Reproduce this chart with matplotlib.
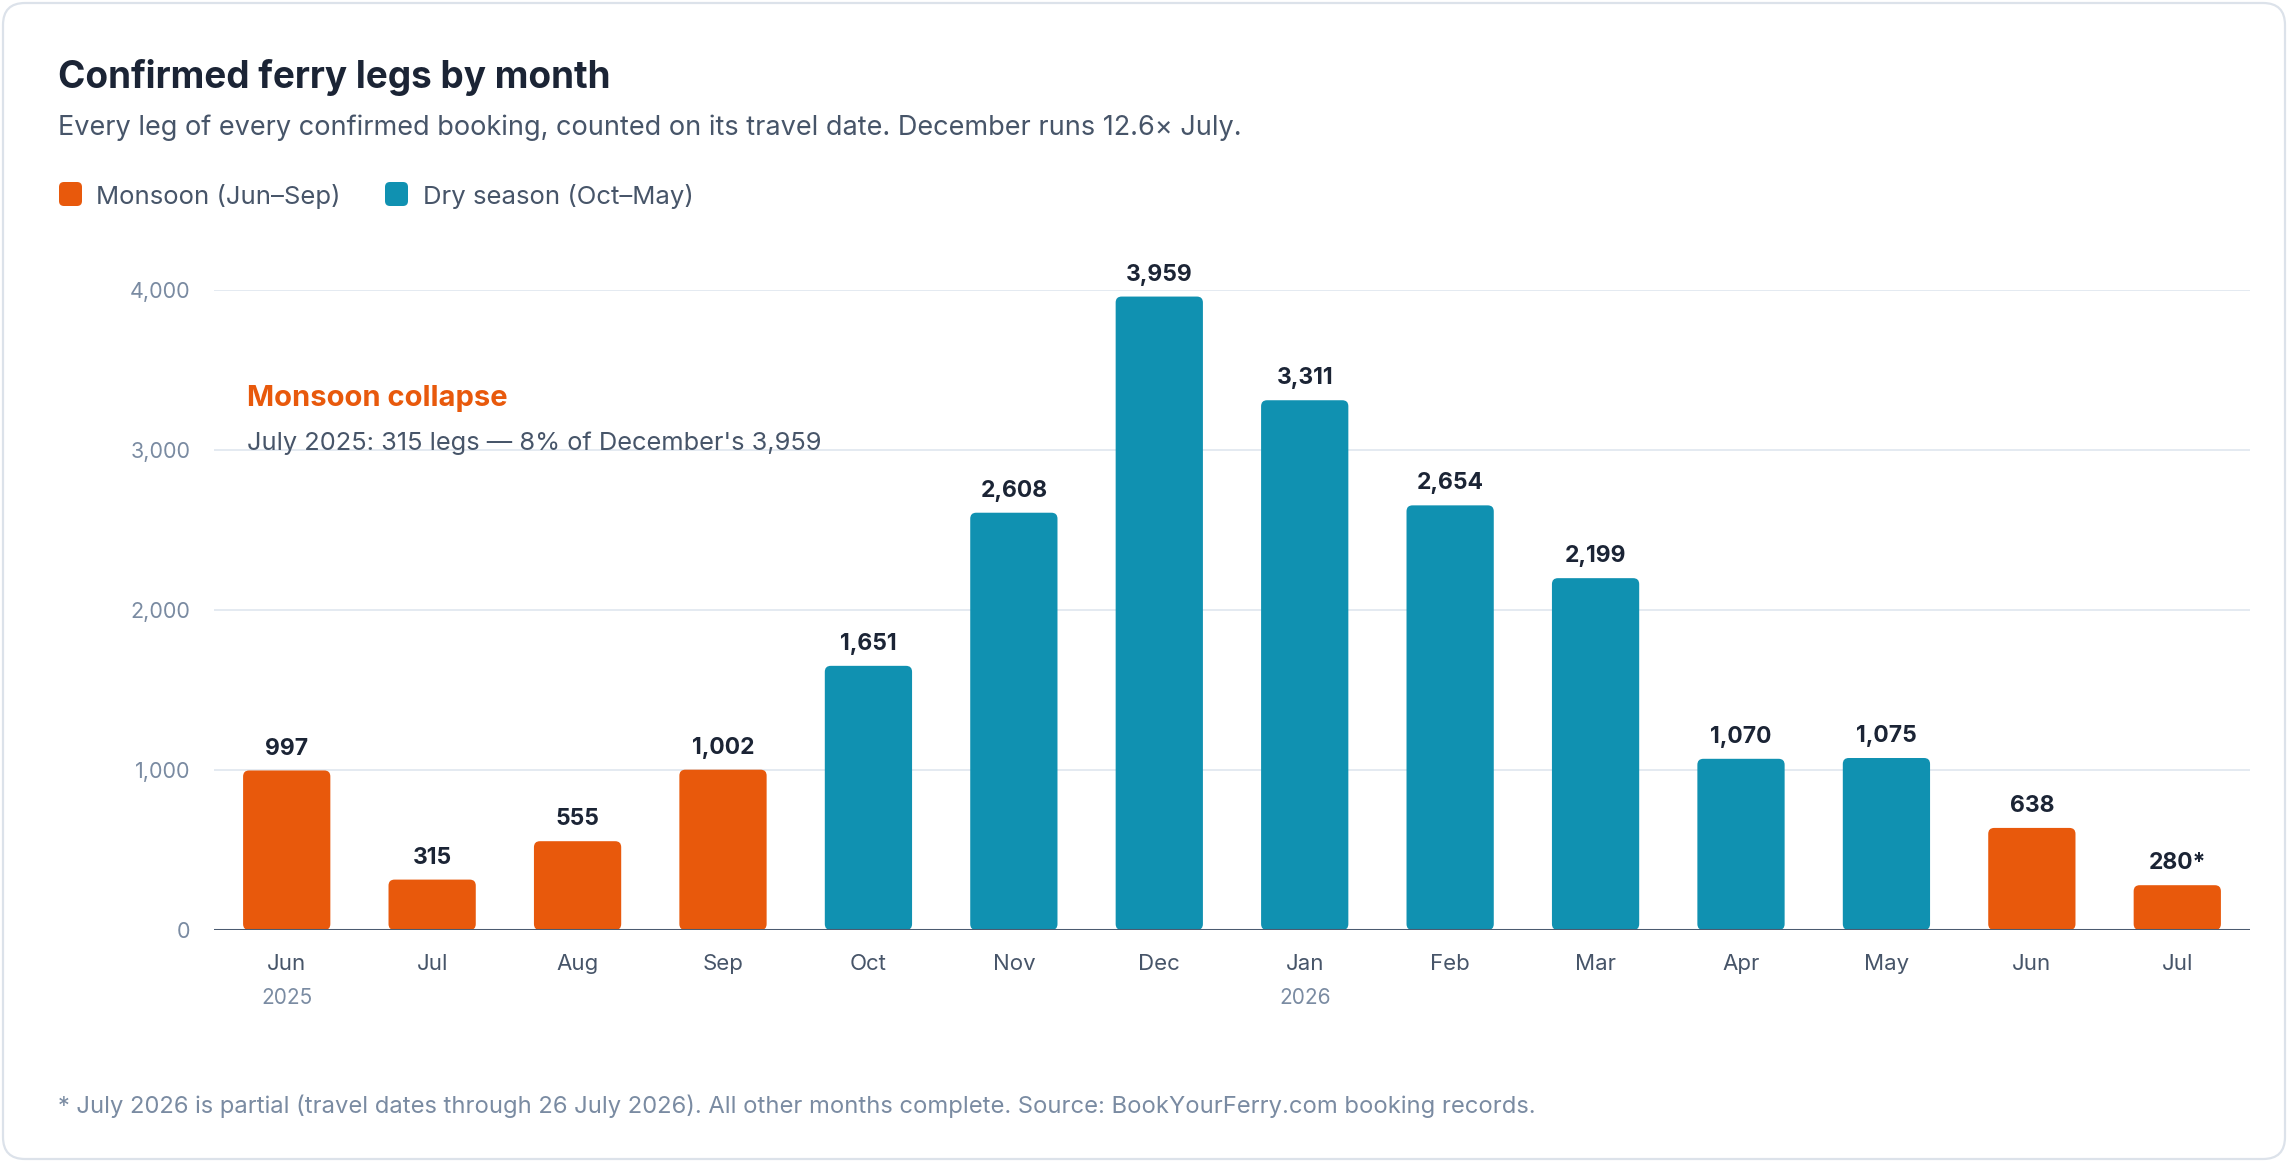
import matplotlib
matplotlib.use("Agg")
import matplotlib.pyplot as plt
from matplotlib.patches import FancyBboxPatch

# ---- data ----
months = ["Jun", "Jul", "Aug", "Sep", "Oct", "Nov", "Dec", "Jan", "Feb", "Mar", "Apr", "May", "Jun", "Jul"]
legs = [997, 315, 555, 1002, 1651, 2608, 3959, 3311, 2654, 2199, 1070, 1075, 638, 280]
value_labels = ["997", "315", "555", "1,002", "1,651", "2,608", "3,959", "3,311", "2,654", "2,199",
                "1,070", "1,075", "638", "280*"]
season = ["monsoon", "monsoon", "monsoon", "monsoon", "dry", "dry", "dry", "dry", "dry", "dry",
          "dry", "dry", "monsoon", "monsoon"]
year_labels = {0: "2025", 7: "2026"}
yticks = [0, 1000, 2000, 3000, 4000]
ytick_labels = ["0", "1,000", "2,000", "3,000", "4,000"]

ORANGE = "#E8590C"
TEAL = "#1091B1"
DARK = "#1B2435"
SLATE = "#475569"
MUTED = "#7A8BA2"
GRID = "#E2E8F0"
BASE = "#4B5B70"
FONT = "Inter"

W, H = 2288, 1162
fig = plt.figure(figsize=(W / 100, H / 100), dpi=100)
fig.patch.set_facecolor("white")

# background card
bg = fig.add_axes([0, 0, 1, 1], zorder=0)
bg.set_xlim(0, W); bg.set_ylim(H, 0); bg.axis("off")
bg.add_patch(FancyBboxPatch((3, 3), W - 6, H - 6, boxstyle="round,pad=0,rounding_size=22",
                            fc="white", ec="#DCE2EA", lw=1.6))

# main axes
L, R, T, B = 214, 2250, 290, 930
ax = fig.add_axes([L / W, 1 - B / H, (R - L) / W, (B - T) / H], zorder=1)
ax.patch.set_alpha(0)
ax.set_xlim(-0.5, len(months) - 0.5)
ax.set_ylim(0, 4000)
for s in ax.spines.values():
    s.set_visible(False)
ax.set_yticks(yticks)
ax.set_yticklabels(ytick_labels, fontsize=15.5, color=MUTED, family=FONT)
ax.tick_params(axis="y", length=0, pad=17)
ax.set_xticks([])
for yv in yticks[1:]:
    ax.axhline(yv, color=GRID, lw=1.3, zorder=0.5)

x = list(range(len(months)))
colors = [ORANGE if s == "monsoon" else TEAL for s in season]
bars = ax.bar(x, legs, width=0.6, color=colors, zorder=2)

# rounded bars
px_x = (R - L) / len(months)  # px per x unit
px_y = (B - T) / 4000         # px per y unit
rad_px = 6
rx = rad_px / px_x
aspect = (rad_px / px_y) / rx
for b, c in zip(bars, colors):
    fb = FancyBboxPatch((b.get_x(), b.get_y()), b.get_width(), b.get_height(),
                        boxstyle=f"round,pad=0,rounding_size={rx}", mutation_aspect=aspect,
                        fc=c, ec="none", zorder=2)
    ax.add_patch(fb)
    b.remove()

ax.axhline(0, color=BASE, lw=2.2, zorder=3)

for xi, v, lab in zip(x, legs, value_labels):
    ax.annotate(lab, (xi, v), xytext=(0, 11.5), textcoords="offset points", ha="center",
                va="baseline", fontsize=16.5, fontweight="bold", color=DARK, family=FONT,
                annotation_clip=False)

xt = ax.get_xaxis_transform()
for xi, m in zip(x, months):
    ax.text(xi, (B - 970) / (B - T), m, transform=xt, ha="center", va="baseline",
            fontsize=16, color=SLATE, family=FONT)
for xi, yl in year_labels.items():
    ax.text(xi, (B - 1004) / (B - T), yl, transform=xt, ha="center", va="baseline",
            fontsize=15, color=MUTED, family=FONT)

# overlay texts
ov = fig.add_axes([0, 0, 1, 1], zorder=3)
ov.set_xlim(0, W); ov.set_ylim(H, 0); ov.axis("off"); ov.patch.set_alpha(0)

ov.text(58, 88, "Confirmed ferry legs by month", fontsize=26.6, fontweight="bold", color=DARK,
        family=FONT, va="baseline")
ov.text(58, 135, "Every leg of every confirmed booking, counted on its travel date. December runs 12.6\u00d7 July.",
        fontsize=19.5, color=SLATE, family=FONT, va="baseline")

ov.add_patch(FancyBboxPatch((59, 182), 23, 24, boxstyle="round,pad=0,rounding_size=5",
                            fc=ORANGE, ec="none"))
ov.text(96, 204, "Monsoon (Jun\u2013Sep)", fontsize=18.5, color=SLATE, family=FONT, va="baseline")
ov.add_patch(FancyBboxPatch((385, 182), 23, 24, boxstyle="round,pad=0,rounding_size=5",
                            fc=TEAL, ec="none"))
ov.text(423, 204, "Dry season (Oct\u2013May)", fontsize=18.5, color=SLATE, family=FONT, va="baseline")

ov.text(247, 406, "Monsoon collapse", fontsize=21, fontweight="bold", color=ORANGE,
        family=FONT, va="baseline")
ov.text(247, 450, "July 2025: 315 legs \u2014 8% of December's 3,959", fontsize=18.3, color=SLATE,
        family=FONT, va="baseline")

ov.text(58, 1113, "* July 2026 is partial (travel dates through 26 July 2026). All other months complete. "
        "Source: BookYourFerry.com booking records.", fontsize=17.1, color=MUTED, family=FONT,
        va="baseline")

fig.savefig("out.png", dpi=100, facecolor="white")
